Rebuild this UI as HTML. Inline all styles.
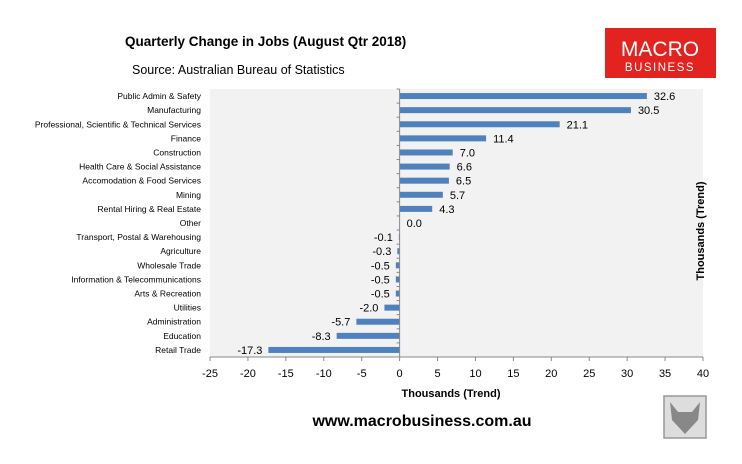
<!DOCTYPE html>
<html><head><meta charset="utf-8"><style>
body{margin:0;background:#fff;}
svg text{font-family:"Liberation Sans",sans-serif;}
</style></head><body>
<svg width="742" height="459" viewBox="0 0 742 459" xmlns="http://www.w3.org/2000/svg">
<text x="125" y="46" font-size="13.5" font-weight="bold" fill="#000">Quarterly Change in Jobs (August Qtr 2018)</text>
<text x="132" y="74" font-size="12.5" fill="#000">Source: Australian Bureau of Statistics</text>
<g>
<rect x="605" y="28" width="111" height="50" fill="#e3231f"/>
<text x="660" y="56" font-size="21" fill="#fff" text-anchor="middle">MACRO</text>
<text x="660" y="71" font-size="11.5" fill="#fff" text-anchor="middle" letter-spacing="1.5">BUSINESS</text>
</g>
<rect x="210" y="89" width="493" height="268" fill="#f2f2f2"/>
<g id="bars"></g>
<g id="axes"></g>
<text x="451" y="397" font-size="11" font-weight="bold" text-anchor="middle">Thousands (Trend)</text>
<text transform="translate(704,231) rotate(-90)" font-size="11" font-weight="bold" text-anchor="middle">Thousands (Trend)</text>
<text x="422" y="426" font-size="16" font-weight="bold" text-anchor="middle">www.macrobusiness.com.au</text>
<g>
<rect x="664" y="396" width="42" height="42" fill="#ddd" stroke="#999" stroke-width="1.5"/>
<path d="M670 402 L678 412 L692 412 L700 402 L698 420 L685 434 L672 420 Z" fill="#888"/>
</g>
</svg>
<script>
const categories=["Public Admin & Safety","Manufacturing","Professional, Scientific & Technical Services","Finance","Construction","Health Care & Social Assistance","Accomodation & Food Services","Mining","Rental Hiring & Real Estate","Other","Transport, Postal & Warehousing","Agriculture","Wholesale Trade","Information & Telecommunications","Arts & Recreation","Utilities","Administration","Education","Retail Trade"];
const values=[32.6,30.5,21.1,11.4,7.0,6.6,6.5,5.7,4.3,0.0,-0.1,-0.3,-0.5,-0.5,-0.5,-2.0,-5.7,-8.3,-17.3];
const ticks=[-25,-20,-15,-10,-5,0,5,10,15,20,25,30,35,40];
const NS="http://www.w3.org/2000/svg";
const x0=210,x1=703,y0=89,y1=357;
function xs(v){return x0+(v-(-25))/65*(x1-x0);}
const band=(y1-y0)/categories.length;
function yc(i){return y0+band*(i+0.5);}
function mk(tag,attrs,parent){const e=document.createElementNS(NS,tag);for(const k in attrs)e.setAttribute(k,attrs[k]);parent.appendChild(e);return e;}
const bars=document.getElementById('bars'),axes=document.getElementById('axes');
categories.forEach((c,i)=>{
 const v=values[i];const a=xs(0),b=xs(v);
 const r=mk('rect',{x:Math.min(a,b),y:yc(i)-3,width:Math.abs(b-a),height:6,fill:'#4f81bd'},bars);
 
 
 const t=mk('text',{x:v>=0?b+7:b-6,y:yc(i)+4,'font-size':11,'text-anchor':v>=0?'start':'end'},bars);
 t.textContent=v.toFixed(1);
 
 
 const l=mk('text',{x:201,y:yc(i)+3,'font-size':8.5,'text-anchor':'end'},axes);
 l.textContent=c;
 
 
});
const za=mk('line',{x1:xs(0),x2:xs(0),y1:y0,y2:y1,stroke:'#888'},axes);


for(let i=0;i<=categories.length;i++){mk('line',{x1:xs(0)-3,x2:xs(0),y1:y0+band*i,y2:y0+band*i,stroke:'#888'},axes);}
const xa=mk('line',{x1:x0,x2:x1,y1:y1,y2:y1,stroke:'#888'},axes);


ticks.forEach(t=>{
 mk('line',{x1:xs(t),x2:xs(t),y1:y1,y2:y1+4,stroke:'#888'},axes);
 const e=mk('text',{x:xs(t),y:y1+20,'font-size':11,'text-anchor':'middle'},axes);
 e.textContent=t;
 
 
});
</script>
</body></html>
